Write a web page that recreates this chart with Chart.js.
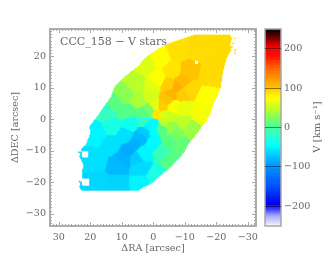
<!DOCTYPE html>
<html>
<head>
<meta charset="utf-8">
<script src="https://cdn.jsdelivr.net/npm/chart.js@4"></script>
<style>
  html, body { margin: 0; padding: 0; background: #fff; }
  #wrap { position: relative; width: 332px; height: 266px; overflow: hidden; }
  canvas { position: absolute; left: 0; top: 0; filter: blur(0.4px); }
</style>
</head>
<body>
<div id="wrap">
  <canvas id="mapChart" width="332" height="266"></canvas>
  <canvas id="barChart" width="332" height="266"></canvas>
</div>
<script>
// Map outline (arcsec)
const outlineRA  = [-24.3,-24.9,-24.3,-24.6,-23.3,-22.4,-21.7,-21.4,-20.1,-19.0,-18.0,-16.9,-15.3,-13.8,-11.1,-10.1,-8.5,-6.3,-4.2,-1.6,0.5,3.2,4.8,22.8,23.3,22.4,22.2,23.3,22.8,21.0,19.9,20.1,18.5,16.9,14.8,13.2,12.2,9.0,4.8,2.1,-1.1,-5.3,-10.1,-13.2];
const outlineDEC = [26.8,25.7,24.1,22.0,19.9,16.7,13.5,10.4,7.2,5.1,1.9,-0.2,-2.3,-4.4,-7.6,-9.7,-11.9,-14.0,-16.1,-18.2,-20.3,-21.4,-22.6,-22.6,-21.4,-18.2,-14.0,-11.9,-9.7,-7.6,-4.4,-2.3,-0.2,1.9,5.1,7.2,10.4,13.5,16.7,19.9,22.0,24.1,25.7,26.8];

// Masked squares inside the map
const holeRA   = [21.6, 21.5, -13.6];
const holeDEC  = [-11.1, -19.9, 18.1];
const holeHalf = [1.2, 1.35, 0.65];

// Stray pixels outside the outline
const speckRA  = [-25.9,-25.4,-26.0,-26.0,-24.9,18.6,17.8,23.4,23.6];
const speckDEC = [25.7,24.1,22.0,21.0,23.0,-1.1,-1.8,-19.8,-10.5];

// Voronoi bins: centre and stellar velocity
const binRA  = [-13.8,-20.1,-7.9,-2.1,-5.8,-18.0,-16.9,-11.6,-1.1,-2.6,-4.2,-5.8,-7.4,-9.3,-11.1,-4.8,-9.0,-1.1,-6.3,-14.8,-9.5,-9.5,-5.3,-5.8,-11.6,-7.4,-9.0,-4.8,-5.8,-2.6,0.0,-0.5,4.2,4.2,3.5,5.5,11.1,18.0,11.1,1.6,2.9,4.2,6.1,7.9,9.3,18.5,13.2,9.0,18.0,13.2,7.4,3.0,14.8,8.5,3.2,9.0,12.2,4.8,1.1,5.3,0.5,2.1,-3.2,-3.2,-2.1,-0.2,-0.2,1.1,-0.5];
const binDEC = [22.5,19.9,22.0,19.4,15.7,14.1,7.2,9.8,1.9,4.0,6.3,8.3,10.2,12.0,15.4,10.9,8.3,13.0,4.0,1.9,3.4,-1.3,0.8,-2.5,-2.9,-3.9,-8.1,-7.1,-12.4,-9.7,-7.6,-18.2,-19.8,-15.5,-10.5,-11.9,-20.3,-19.8,-14.8,-2.1,-3.9,-5.7,-7.8,-9.9,-12.1,-12.9,-7.6,-5.0,-4.4,-2.3,-1.3,-0.7,2.4,2.4,1.9,7.7,5.1,6.1,7.5,11.4,10.9,17.2,1.4,-0.7,-2.9,-3.4,-1.5,3.0,4.2];
const binV   = [90,90,88,76,86,90,74,92,85,95,100,108,112,104,100,96,96,74,72,70,64,47,52,30,34,22,12,8,6,-12,-50,-30,-52,-62,-52,-70,-66,-64,-80,-52,-70,-80,-84,-88,-84,-60,-60,-60,-52,-32,-38,-20,-14,6,8,28,8,40,55,45,62,60,58,46,6,-48,-50,20,62];

// Colour bar stops
const barStops  = [-250,-225,-210,-195,-150,-100,-60,-48,-20,0,25,50,75,100,150,180,205,225,250];
const barColors = ['#f4f4ff','#a8a8ff','#4848ff','#0000f0','#0050ff','#0094ff','#00e0ff','#00ffff','#30ffd0','#44ff98','#84ff58','#c8ff20','#ffff00','#ffc400','#ff6400','#ff1000','#f00000','#7a0000','#000000'];

const mapTicks = [30, 20, 10, 0, -10, -20, -30];
const barTicks = [200, 100, 0, -100, -200];

const inkColor = '#666';
const frameColor = '#a8a8a8';
const labelFont = { family: '"DejaVu Serif"', size: 9.6 };

function hexToRgb(h) {
    return [parseInt(h.slice(1, 3), 16), parseInt(h.slice(3, 5), 16), parseInt(h.slice(5, 7), 16)];
}

function colorForV(v) {
    let i = 0;
    while (i < barStops.length - 2 && v > barStops[i + 1]) i++;
    const t = Math.min(1, Math.max(0, (v - barStops[i]) / (barStops[i + 1] - barStops[i])));
    const a = hexToRgb(barColors[i]);
    const b = hexToRgb(barColors[i + 1]);
    return `rgb(${a.map((c, k) => Math.round(c + (b[k] - c) * t)).join(',')})`;
}

function insideOutline(ra, dec) {
    let inside = false;
    for (let i = 0, j = outlineRA.length - 1; i < outlineRA.length; j = i++) {
        if ((outlineDEC[i] > dec) !== (outlineDEC[j] > dec) &&
            ra < (outlineRA[j] - outlineRA[i]) * (dec - outlineDEC[i]) / (outlineDEC[j] - outlineDEC[i]) + outlineRA[i]) {
            inside = !inside;
        }
    }
    return inside;
}

function inHole(ra, dec) {
    return holeRA.some((r, i) => Math.abs(ra - r) < holeHalf[i] && Math.abs(dec - holeDEC[i]) < holeHalf[i]);
}

function nearestBin(ra, dec) {
    let best = 0, bestD = Infinity;
    binRA.forEach((r, i) => {
        const d = (ra - r) ** 2 + (dec - binDEC[i]) ** 2;
        if (d < bestD) { bestD = d; best = i; }
    });
    return best;
}

// Every map pixel takes the velocity of its bin
const cells = [];
const cellColors = [];
function addCell(ra, dec) {
    cells.push({ x: ra, y: dec });
    cellColors.push(colorForV(binV[nearestBin(ra, dec)]));
}
for (let dec = -23; dec < 27.2; dec += 0.32) {
    for (let ra = -27; ra < 24; ra += 0.32) {
        if (insideOutline(ra, dec) && !inHole(ra, dec)) addCell(ra, dec);
    }
}
speckRA.forEach((r, i) => addCell(r, speckDEC[i]));

function signed(v) {
    return String(v).replace('-', '\u2212');
}

// Inward IDL style ticks and the plot frame
function drawFrameTicks(chart, scale, sides, major, minorLen, majorLen) {
    const ctx = chart.ctx;
    const area = chart.chartArea;
    ctx.save();
    ctx.strokeStyle = frameColor;
    ctx.lineWidth = 1;
    ctx.beginPath();
    scale.ticks.forEach(t => {
        const p = Math.round(scale.getPixelForValue(t.value)) + 0.5;
        const len = t.value % major === 0 ? majorLen : minorLen;
        sides.forEach(s => {
            if (s === 'left')   { ctx.moveTo(area.left, p); ctx.lineTo(area.left + len, p); }
            if (s === 'right')  { ctx.moveTo(area.right, p); ctx.lineTo(area.right - len, p); }
            if (s === 'bottom') { ctx.moveTo(p, area.bottom); ctx.lineTo(p, area.bottom - len); }
            if (s === 'top')    { ctx.moveTo(p, area.top); ctx.lineTo(p, area.top + len); }
        });
    });
    ctx.stroke();
    ctx.lineWidth = 1.5;
    ctx.strokeRect(area.left, area.top, area.right - area.left, area.bottom - area.top);
    ctx.restore();
}

const mapDecor = {
    id: 'mapDecor',
    afterDatasetsDraw(chart) {
        drawFrameTicks(chart, chart.scales.x, ['bottom', 'top'], 10, 2, 4);
        drawFrameTicks(chart, chart.scales.y, ['left', 'right'], 10, 2, 4);
        const ctx = chart.ctx;
        ctx.save();
        ctx.fillStyle = inkColor;
        ctx.font = '11px "DejaVu Serif"';
        ctx.textBaseline = 'middle';
        ctx.fillText('CCC_158 \u2212 V stars', 60, 42);
        ctx.restore();
    }
};

new Chart(document.getElementById('mapChart'), {
    type: 'scatter',
    data: {
        datasets: [{
            data: cells,
            pointStyle: 'rect',
            pointRadius: 1.2,
            pointBorderWidth: 0,
            pointBackgroundColor: cellColors
        }]
    },
    options: {
        responsive: false,
        animation: false,
        layout: { padding: { top: 29, right: 76 } },
        plugins: { legend: { display: false }, tooltip: { enabled: false } },
        scales: {
            x: {
                reverse: true,
                min: -32.6,
                max: 32.8,
                afterFit: s => { s.height = 40; },
                grid: { display: false, drawTicks: false },
                border: { display: false },
                ticks: {
                    stepSize: 1,
                    includeBounds: false,
                    autoSkip: false,
                    maxRotation: 0,
                    padding: 6,
                    color: inkColor,
                    font: labelFont,
                    callback: v => mapTicks.includes(v) ? signed(v) : ''
                },
                title: { display: true, text: '\u0394RA [arcsec]', color: inkColor, font: labelFont, padding: { top: 0, bottom: 12 } }
            },
            y: {
                min: -33.9,
                max: 28.7,
                afterFit: s => { s.width = 50; },
                grid: { display: false, drawTicks: false },
                border: { display: false },
                ticks: {
                    stepSize: 1,
                    includeBounds: false,
                    autoSkip: false,
                    padding: 4,
                    color: inkColor,
                    font: labelFont,
                    callback: v => mapTicks.includes(v) ? signed(v) : ''
                },
                title: { display: true, text: '\u0394DEC [arcsec]', color: inkColor, font: labelFont, padding: { top: 10, bottom: 0 } }
            }
        }
    },
    plugins: [mapDecor]
});

// Colour bar as one stack of thin floating bars on the velocity axis
const barDatasets = [];
for (let v = -250; v < 250; v += 4) {
    barDatasets.push({
        data: [[v, v + 4]],
        backgroundColor: colorForV(v + 2),
        borderWidth: 0,
        grouped: false,
        barPercentage: 1,
        categoryPercentage: 1
    });
}

const barDecor = {
    id: 'barDecor',
    afterDatasetsDraw(chart) {
        const area = chart.chartArea;
        const ctx = chart.ctx;
        ctx.save();
        ctx.strokeStyle = frameColor;
        ctx.lineWidth = 1.5;
        ctx.strokeRect(area.left, area.top, area.right - area.left, area.bottom - area.top);
        ctx.fillStyle = inkColor;
        ctx.font = '10px "DejaVu Serif"';
        ctx.textAlign = 'center';
        ctx.textBaseline = 'middle';
        ctx.translate(317, 127);
        ctx.rotate(-Math.PI / 2);
        ctx.fillText('V [km s\u207B\u00B9]', 0, 0);
        ctx.restore();
    }
};

new Chart(document.getElementById('barChart'), {
    type: 'bar',
    data: { labels: ['V'], datasets: barDatasets },
    options: {
        responsive: false,
        animation: false,
        layout: { padding: { top: 29, bottom: 40, left: 265 } },
        plugins: { legend: { display: false }, tooltip: { enabled: false } },
        scales: {
            x: { display: false },
            y: {
                position: 'right',
                min: -250,
                max: 250,
                afterFit: s => { s.width = 51; },
                afterBuildTicks: s => { s.ticks = barTicks.map(v => ({ value: v })); },
                border: { display: false },
                grid: { z: 1, color: 'rgba(0,0,0,0.45)', drawTicks: false },
                ticks: {
                    padding: 3,
                    color: inkColor,
                    font: labelFont,
                    callback: v => signed(v)
                }
            }
        }
    },
    plugins: [barDecor]
});
</script>
</body>
</html>
